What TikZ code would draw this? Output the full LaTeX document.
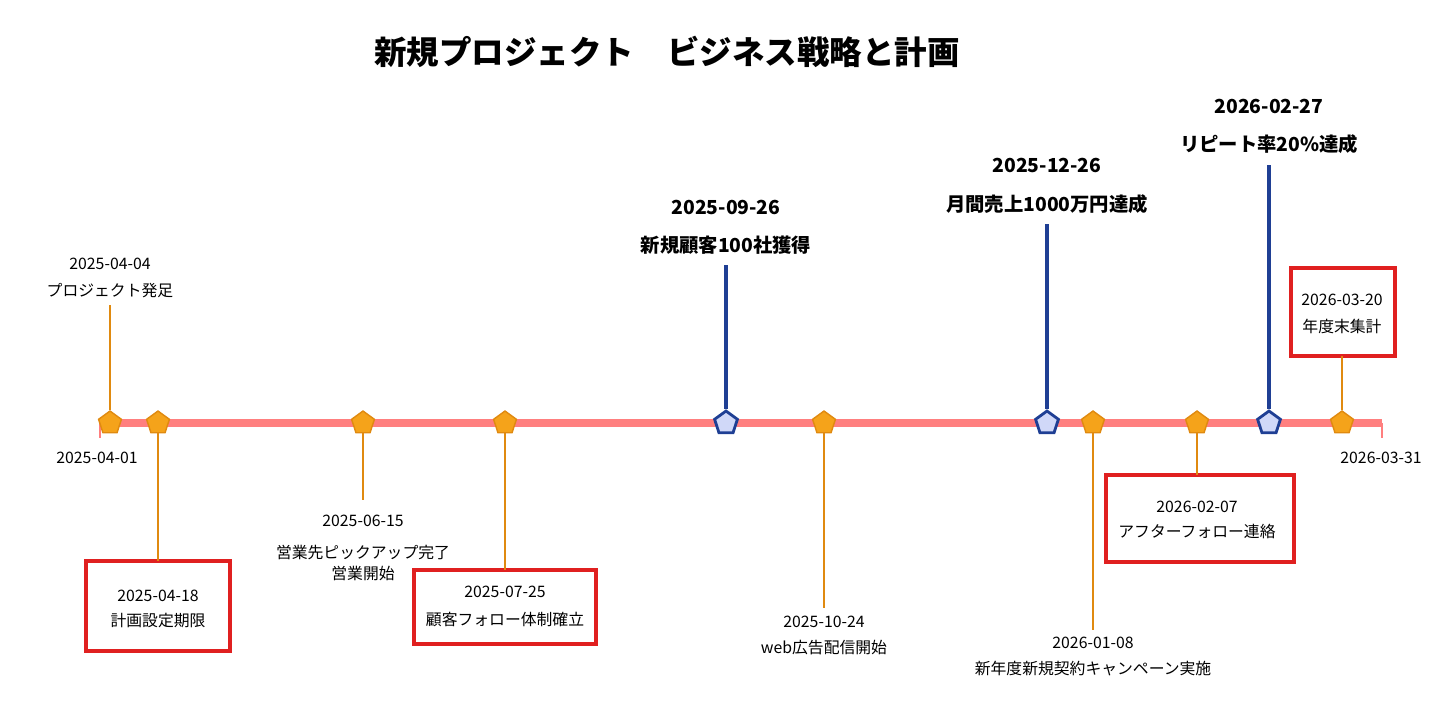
\documentclass[tikz,border=0pt]{standalone}
\usepackage{fontspec}
\setmainfont{Noto Sans CJK JP}
\usetikzlibrary{shapes.geometric}
\definecolor{axisred}{HTML}{FF7F7F}
\definecolor{evorange}{HTML}{F5A31A}
\definecolor{evline}{HTML}{E08A10}
\definecolor{msblue}{HTML}{1F3F94}
\definecolor{msfill}{HTML}{D0D8F8}
\definecolor{boxred}{HTML}{E02020}
\begin{document}
\begin{tikzpicture}[x=0.02cm, y=-0.02cm,
  ev/.style={regular polygon, regular polygon sides=5, fill=evorange, draw=evline, thick, minimum size=0.48cm, inner sep=0pt},
  ms/.style={regular polygon, regular polygon sides=5, fill=msfill, draw=msblue, line width=1.6pt, minimum size=0.48cm, inner sep=0pt},
  evstem/.style={draw=evline, line width=1.2pt},
  msstem/.style={draw=msblue, line width=1.8pt},
  txt/.style={font=\fontsize{9}{10.5}\selectfont, align=center, inner sep=0pt},
  bold/.style={font=\fontsize{11}{13}\selectfont\bfseries, align=center, inner sep=0pt},
  redbox/.style={draw=boxred, line width=2pt}]
	\useasboundingbox (0,0) rectangle (1437,721);

	\node (title) at (667,52) [font=\fontsize{18.5}{20}\selectfont\bfseries] {新規プロジェクト\quad ビジネス戦略と計画};

	% axis
	\coordinate (a0) at (100,423);
	\coordinate (a1) at (1382,423);
	\draw[axisred, line width=4.8pt] (a0) -- (a1);
	\draw[axisred, line width=1.2pt] (a0) -- ++(0,15);
	\draw[axisred, line width=1.2pt] (a1) -- ++(0,15);
	\node (start) at (97,458) [txt] {2025-04-01};
	\node (end) at (1381,458) [txt] {2026-03-31};

	% stems
	\coordinate (s1) at (110,305);
	\coordinate (s3) at (363,500);
	\coordinate (s6) at (824,608);
	\coordinate (s8) at (1093,630);
	\coordinate (m1) at (726,265);
	\coordinate (m2) at (1047,224);
	\coordinate (m3) at (1269,165);
	\draw[redbox] (86,561) rectangle (230,651);
	\draw[redbox] (414,570) rectangle (596,644);
	\draw[redbox] (1106,475) rectangle (1294,562);
	\draw[redbox] (1291,268) rectangle (1395,356);
	\coordinate (b2) at (158,561);
	\coordinate (b4) at (505,570);
	\coordinate (b9) at (1197,475);
	\coordinate (b10) at (1342,356);

	\node (e1) at (110,423) [ev] {};
	\node (e2) at (158,423) [ev] {};
	\node (e3) at (363,423) [ev] {};
	\node (e4) at (505,423) [ev] {};
	\node (e6) at (824,423) [ev] {};
	\node (e8) at (1093,423) [ev] {};
	\node (e9) at (1197,423) [ev] {};
	\node (e10) at (1342,423) [ev] {};
	\node (ms1) at (726,423) [ms] {};
	\node (ms2) at (1047,423) [ms] {};
	\node (ms3) at (1269,423) [ms] {};

	\draw[evstem] (e1) -- (s1);
	\draw[evstem] (e2) -- (b2);
	\draw[evstem] (e3) -- (s3);
	\draw[evstem] (e4) -- (b4);
	\draw[evstem] (e6) -- (s6);
	\draw[evstem] (e8) -- (s8);
	\draw[evstem] (e9) -- (b9);
	\draw[evstem] (e10) -- (b10);
	\draw[msstem] (ms1) -- (m1);
	\draw[msstem] (ms2) -- (m2);
	\draw[msstem] (ms3) -- (m3);

	% labels
	\node (d1) at (110,264) [txt] {2025-04-04};
	\node (t1) at (110,291) [txt] {プロジェクト発足};
	\node (d2) at (158,596) [txt] {2025-04-18};
	\node (t2) at (158,621) [txt] {計画設定期限};
	\node (d3) at (363,521) [txt] {2025-06-15};
	\node (t3) at (363,563) [txt] {営業先ピックアップ完了\\[1pt]営業開始};
	\node (d4) at (505,592) [txt] {2025-07-25};
	\node (t4) at (505,619) [txt] {顧客フォロー体制確立};
	\node (d6) at (824,622) [txt] {2025-10-24};
	\node (t6) at (824,648) [txt] {web広告配信開始};
	\node (d8) at (1093,643) [txt] {2026-01-08};
	\node (t8) at (1093,669) [txt] {新年度新規契約キャンペーン実施};
	\node (d9) at (1197,507) [txt] {2026-02-07};
	\node (t9) at (1197,531) [txt] {アフターフォロー連絡};
	\node (d10) at (1342,300) [txt] {2026-03-20};
	\node (t10) at (1342,326) [txt] {年度末集計};
	\node (md1) at (726,207) [bold] {2025-09-26};
	\node (mt1) at (726,245) [bold] {新規顧客100社獲得};
	\node (md2) at (1047,165) [bold] {2025-12-26};
	\node (mt2) at (1047,204) [bold] {月間売上1000万円達成};
	\node (md3) at (1269,106) [bold] {2026-02-27};
	\node (mt3) at (1269,144) [bold] {リピート率20\%達成};
\end{tikzpicture}
\end{document}
